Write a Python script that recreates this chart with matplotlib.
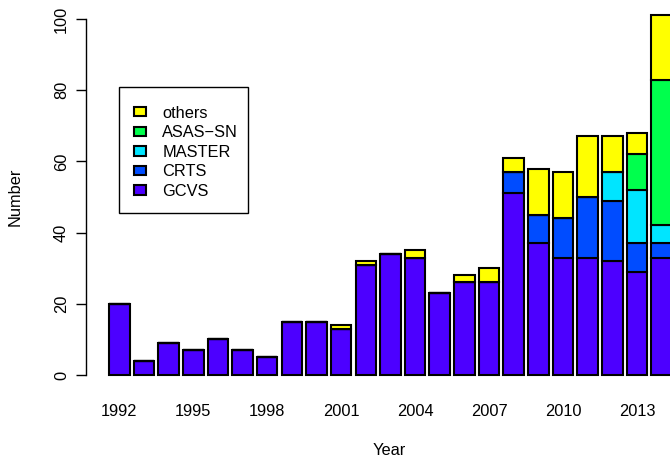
import numpy as np
import matplotlib.pyplot as plt
from matplotlib.patches import Patch, Rectangle

plt.rcParams['font.family'] = ['Liberation Sans', 'DejaVu Sans']

years = np.arange(1992, 2015)
gcvs = [20, 4, 9, 7, 10, 7, 5, 15, 15, 13, 31, 34, 33, 23, 26, 26, 51, 37, 33, 33, 32, 29, 33]
crts = [0]*16 + [6, 8, 11, 17, 17, 8, 4]
master = [0]*20 + [8, 15, 5]
asassn = [0]*21 + [10, 41]
others = [0, 0, 0, 0, 0, 0, 0, 0, 0, 1, 1, 0, 2, 0, 2, 4, 4, 13, 13, 17, 10, 6, 18]

series = [('GCVS', gcvs, '#4C00FF'), ('CRTS', crts, '#004CFF'),
          ('MASTER', master, '#00E5FF'), ('ASAS\u2212SN', asassn, '#00FF4D'),
          ('others', others, '#FFFF00')]
label_years = [1992, 1995, 1998, 2001, 2004, 2007, 2010, 2013]

fs = 11.8
W, H = 670, 461
fig = plt.figure(figsize=(W/100, H/100), dpi=100)
# pixel layout: y=0 at 375px, y=100 at 19px; bar pitch 24.65px, 1992 centre at 119px
pxu = 3.56
y0, y1 = -4, 105
pitch = 24.65
left_px = 86
x0 = 1992 - (119.3 - left_px)/pitch
x1 = x0 + (W - left_px)/pitch
bot_px = 375 - pxu*y0
top_px = 375 - pxu*y1
ax = fig.add_axes([left_px/W, (H - bot_px)/H, (W - left_px)/W, (bot_px - top_px)/H])
ax.set_xlim(x0, x1)
ax.set_ylim(y0, y1)

bottom = np.zeros(len(years))
for name, vals, col in series:
    vals = np.array(vals, dtype=float)
    ax.bar(years, vals, width=1/1.2, bottom=bottom, color=col,
           edgecolor='black', linewidth=1.5)
    bottom += vals

for s in ['top', 'right', 'bottom']:
    ax.spines[s].set_visible(False)
ax.spines['left'].set_bounds(0, 100)
ax.spines['left'].set_linewidth(1.0)
ax.set_yticks([0, 20, 40, 60, 80, 100])
ax.tick_params(axis='y', length=7.2, width=1.0, pad=5, labelsize=fs)
for t in ax.get_yticklabels():
    t.set_rotation(90)
    t.set_va('center')
ax.set_xticks(label_years)
ax.set_xticklabels([str(y) for y in label_years])
ax.tick_params(axis='x', length=0, pad=10.5, labelsize=fs)

fig.text(389/W, 1 - 450/H, 'Year', ha='center', va='center', fontsize=fs)
fig.text(15/W, 1 - 197/H, 'Number', ha='center', va='center', rotation=90, fontsize=fs)

# legend box drawn by hand (R-style), entries from fig.legend without frame
fig.patches.append(Rectangle((118.5/W, 1 - 213/H), (248 - 118.5)/W, (213 - 86.7)/H,
                             transform=fig.transFigure, facecolor='white',
                             edgecolor='black', linewidth=1.0, zorder=5))
handles = [Patch(facecolor=c, edgecolor='black', linewidth=1.5) for _, _, c in series[::-1]]
labels = [n for n, _, _ in series[::-1]]
leg = fig.legend(handles, labels, loc='upper left',
                 bbox_to_anchor=(134/W, 1 - 105.5/H), borderaxespad=0,
                 fontsize=fs, frameon=False,
                 handlelength=0.74, handleheight=0.5, handletextpad=0.98,
                 labelspacing=0.28, borderpad=0)
leg.set_zorder(6)

fig.savefig('out.png', dpi=100)
